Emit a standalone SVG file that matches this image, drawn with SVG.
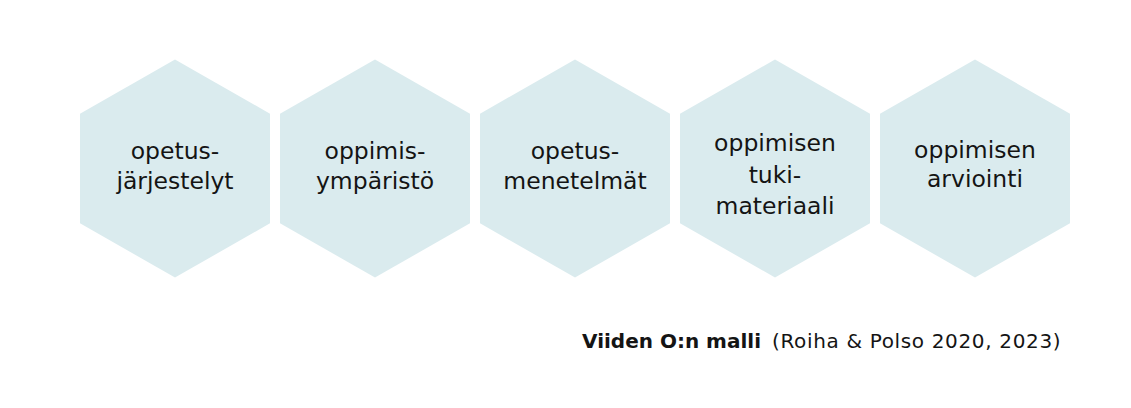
<svg xmlns="http://www.w3.org/2000/svg" width="1131" height="408" viewBox="0 0 1131 408">
<style>
.hex{fill:#daebee}
.t{font-family:"DejaVu Sans","Noto Sans",sans-serif;font-size:23.5px;fill:#141414;text-anchor:middle}
.c{font-family:"DejaVu Sans","Noto Sans",sans-serif;font-size:20px;fill:#141414}
</style>
<defs>
<polygon id="hx" points="0,-109 95,-54.8 95,54.8 0,109 -95,54.8 -95,-54.8"/>
</defs>
<rect width="1131" height="408" fill="#ffffff"/>
<g id="node1">
<use href="#hx" class="hex" x="175" y="168.5"/>
<text class="t" x="175" y="159">opetus-</text>
<text class="t" x="175" y="189">järjestelyt</text>
</g>
<g id="node2">
<use href="#hx" class="hex" x="375" y="168.5"/>
<text class="t" x="375" y="159">oppimis-</text>
<text class="t" x="375" y="189">ympäristö</text>
</g>
<g id="node3">
<use href="#hx" class="hex" x="575" y="168.5"/>
<text class="t" x="575" y="159">opetus-</text>
<text class="t" x="575" y="189">menetelmät</text>
</g>
<g id="node4">
<use href="#hx" class="hex" x="775" y="168.5"/>
<text class="t" x="775" y="151">oppimisen</text>
<text class="t" x="775" y="183">tuki-</text>
<text class="t" x="775" y="214">materiaali</text>
</g>
<g id="node5">
<use href="#hx" class="hex" x="975" y="168.5"/>
<text class="t" x="975" y="158">oppimisen</text>
<text class="t" x="975" y="187">arviointi</text>
</g>
<g id="connectors"></g>
<g id="caption">
<text class="c" x="582" y="348"><tspan font-weight="bold">Viiden O:n malli</tspan><tspan x="772" letter-spacing="0.65">(Roiha &amp; Polso 2020, 2023)</tspan></text>
</g>
</svg>
